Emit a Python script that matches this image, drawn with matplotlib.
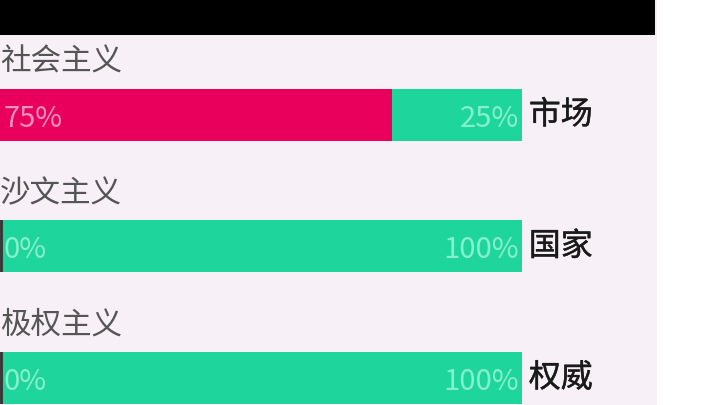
import matplotlib
matplotlib.use("Agg")
import matplotlib.pyplot as plt
from matplotlib.patches import Rectangle
import matplotlib.patheffects as pe

plt.rcParams['font.family'] = ['Noto Sans CJK SC', 'DejaVu Sans']

# ---- data ----
ideologies = ["社会主义", "沙文主义", "极权主义"]
left_values = [75, 0, 0]
right_values = [25, 100, 100]
right_labels = ["市场", "国家", "权威"]

W, H = 720, 405
fig = plt.figure(figsize=(W / 100, H / 100), dpi=100)
fig.patch.set_facecolor("#ffffff")

# background panel and black header
bg = fig.add_axes([0, 0, 1, 1])
bg.set_xlim(0, W)
bg.set_ylim(H, 0)
bg.axis("off")
bg.add_patch(Rectangle((0, 0), 657, H, facecolor="#f7f0f6", edgecolor="none"))
bg.add_patch(Rectangle((0, 0), 655, 35, facecolor="#000000", edgecolor="none"))

# bar axes: spans x 0..522 px, full height
bar_w_px = 522
ax = fig.add_axes([0, 0, bar_w_px / W, 1])
ax.set_xlim(0, 100)
spacing = 131.5
first_center = 115
ax.set_ylim((H - first_center) / spacing, -first_center / spacing)
ax.axis("off")
ax.patch.set_alpha(0)

bar_h = 52 / spacing
pink = "#e8005c"
green = "#1ed59b"
for i, (lv, rv) in enumerate(zip(left_values, right_values)):
    ax.barh(i, lv, height=bar_h, left=0, color=pink, edgecolor="none")
    ax.barh(i, rv, height=bar_h, left=lv, color=green, edgecolor="none")
    if lv == 0:
        ax.barh(i, 0.6, height=bar_h, left=0, color="#3a3a3a", edgecolor="none")
    ax.text(0.6, i + 0.03, f"{lv}%", ha="left", va="center", fontsize=21,
            color="#f590bf" if lv > 0 else "#86efcb", fontweight="light")
    ax.text(99.4, i + 0.03, f"{rv}%", ha="right", va="center", fontsize=21,
            color="#86efcb", fontweight="light")
    ax.text(0, i - 0.40, ideologies[i], ha="left", va="center", fontsize=22,
            color="#555555")
    ax.text(101.3, i, right_labels[i], ha="left", va="center", fontsize=23,
            color="#1a1a1a", clip_on=False,
            path_effects=[pe.withStroke(linewidth=0.3, foreground="#1a1a1a")])

fig.savefig("out.png", dpi=100)
